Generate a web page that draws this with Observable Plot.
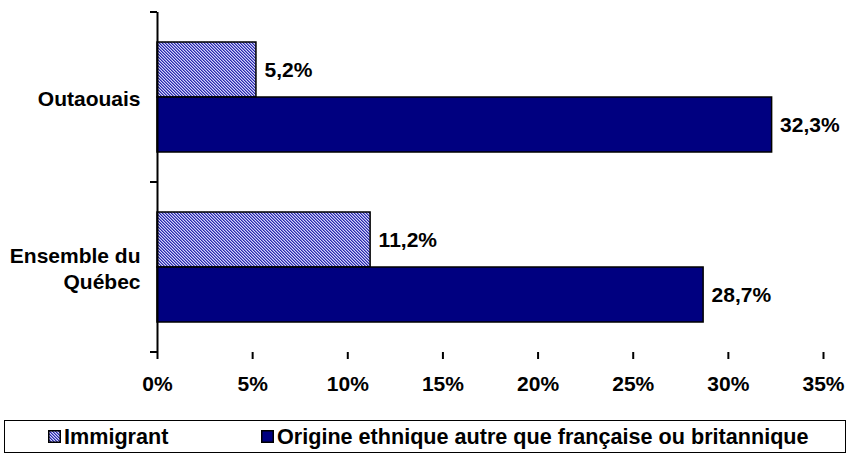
<!DOCTYPE html>
<html>
<head>
<meta charset="utf-8">
<script src="https://cdn.jsdelivr.net/npm/d3@7"></script>
<script src="https://cdn.jsdelivr.net/npm/@observablehq/plot@0.6"></script>
<style>
  html, body { margin: 0; padding: 0; background: #fff; }
  body { font-family: "Liberation Sans", Arial, sans-serif; width: 855px; height: 457px; position: relative; overflow: hidden; }
  #chart { position: absolute; left: 0; top: 0; }
  #legend {
    position: absolute; left: 4px; top: 420px; width: 842px; height: 33px;
    border: 1px solid #000; box-sizing: border-box; background: #fff;
    font-weight: bold; font-size: 21.6px; color: #000;
  }
  .item { position: absolute; top: 3px; height: 25px; display: flex; align-items: center; white-space: nowrap; line-height: 25px; }
  .item svg { margin-right: 3px; display: block; }
</style>
</head>
<body>
<div id="chart"></div>
<div id="legend"></div>
<script>
// ---- Data ----
const categories = ["Outaouais", "Ensemble du Québec"];
const categoryLabels = ["Outaouais", "Ensemble du\nQuébec"];
const series = ["Immigrant", "Origine ethnique autre que française ou britannique"];
const immigrant = [5.2, 11.2];
const origine = [32.3, 28.7];
const xTicks = [0, 5, 10, 15, 20, 25, 30, 35];

const dataImm = categories.map((c, i) => ({category: c, series: series[0], value: immigrant[i]}));
const dataOri = categories.map((c, i) => ({category: c, series: series[1], value: origine[i]}));
const fmt = d => d.value.toFixed(1).replace(".", ",") + "%";
const labelOf = c => categoryLabels[categories.indexOf(c)];

const font = "Liberation Sans, Arial, sans-serif";
const fs = 21;

const chart = Plot.plot({
  width: 855,
  height: 410,
  marginLeft: 157,
  marginRight: 32,
  marginTop: 11,
  marginBottom: 58,
  style: {fontFamily: font, fontSize: fs + "px", fontWeight: "bold", color: "#000", background: "#fff"},
  x: {domain: [0, 35]},
  y: {domain: series, paddingInner: 0, paddingOuter: 0.545, axis: null},
  fy: {domain: categories, padding: 0, axis: null},
  marks: [
    Plot.barX(dataImm, {x: "value", y: "series", fy: "category", fill: "url(#hatch)", stroke: "#000", strokeWidth: 1.5}),
    Plot.barX(dataOri, {x: "value", y: "series", fy: "category", fill: "#000080", stroke: "#000", strokeWidth: 1.5}),
    Plot.text(dataImm.concat(dataOri), {x: "value", y: "series", fy: "category", text: fmt, textAnchor: "start", dx: 8, fill: "#000", fontSize: fs, fontWeight: "bold"}),
    Plot.ruleX([0], {stroke: "#000", strokeWidth: 2}),
    Plot.axisX({ticks: xTicks, tickFormat: d => d + "%", tickSize: 7, tickPadding: 17, strokeWidth: 2, line: true, label: null, fontSize: fs, fontWeight: "bold"}),
    Plot.axisFy({anchor: "left", tickSize: 0, tickPadding: 17, tickFormat: labelOf, label: null, lineHeight: 1.25, fontSize: fs, fontWeight: "bold"})
  ]
});

// hatch pattern definition (fine diagonal dither)
const svg = d3.select(chart);
const defs = svg.insert("defs", ":first-child");
function addHatch(defsSel, id) {
  const p = defsSel.append("pattern").attr("id", id).attr("patternUnits", "userSpaceOnUse")
    .attr("width", 3).attr("height", 3);
  p.append("rect").attr("width", 3).attr("height", 3).attr("fill", "#d6d6f6");
  [0, 1, 2].forEach(k => p.append("rect").attr("x", k).attr("y", k).attr("width", 1).attr("height", 1).attr("fill", "#2a2aa8"));
  [0, 1, 2].forEach(k => p.append("rect").attr("x", (k + 1) % 3).attr("y", k).attr("width", 1).attr("height", 1).attr("fill", "#7878dc"));
}
addHatch(defs, "hatch");

// small y-axis ticks at category band boundaries (derived from the fy scale)
const fy = chart.scale("fy");
const bw = fy.bandwidth;
const bounds = new Set();
categories.forEach(c => { const y0 = fy.apply(c); bounds.add(y0); bounds.add(y0 + bw); });
const x0 = chart.scale("x").apply(0);
svg.append("g").selectAll("line").data([...bounds]).join("line")
  .attr("x1", x0 - 7).attr("x2", x0).attr("y1", d => d).attr("y2", d => d)
  .attr("stroke", "#000").attr("stroke-width", 2);

document.getElementById("chart").appendChild(chart);

// ---- Legend ----
const legend = d3.select("#legend");
const legendPos = [43, 256];
series.forEach((s, i) => {
  const item = legend.append("div").attr("class", "item").style("left", legendPos[i] + "px");
  const sw = item.append("svg").attr("width", 13).attr("height", 13);
  if (i === 0) {
    addHatch(sw.append("defs"), "hatchLegend");
    sw.append("rect").attr("x", 0.75).attr("y", 0.75).attr("width", 11.5).attr("height", 11.5)
      .attr("fill", "url(#hatchLegend)").attr("stroke", "#000").attr("stroke-width", 1.5);
  } else {
    sw.append("rect").attr("x", 0.75).attr("y", 0.75).attr("width", 11.5).attr("height", 11.5)
      .attr("fill", "#000080").attr("stroke", "#000").attr("stroke-width", 1.5);
  }
  item.append("span").text(s);
});
</script>
</body>
</html>
